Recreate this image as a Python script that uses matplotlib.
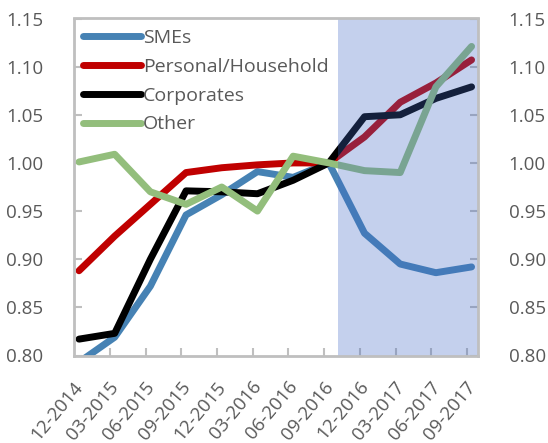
import matplotlib.pyplot as plt
import matplotlib.transforms as mtransforms
import numpy as np

dates = ['12-2014', '03-2015', '06-2015', '09-2015', '12-2015', '03-2016',
         '06-2016', '09-2016', '12-2016', '03-2017', '06-2017', '09-2017']

smes = [0.793, 0.819, 0.872, 0.946, 0.967, 0.991, 0.985, 1.000, 0.927, 0.895, 0.886, 0.892]
household = [0.888, 0.924, 0.957, 0.990, 0.995, 0.998, 1.000, 1.000, 1.027, 1.063, 1.083, 1.107]
corporates = [0.817, 0.823, 0.900, 0.971, 0.970, 0.968, 0.982, 1.000, 1.048, 1.050, 1.067, 1.079]
other = [1.001, 1.009, 0.970, 0.957, 0.975, 0.950, 1.007, 1.000, 0.992, 0.990, 1.079, 1.121]

plt.rcParams['font.family'] = ['Open Sans', 'DejaVu Sans']
grey_txt = '#595959'
spine_col = '#BFBFBF'

fig = plt.figure(figsize=(5.48, 4.43), dpi=100)
ax = fig.add_axes([74 / 548, 87.5 / 443, 404 / 548, 337 / 443])

x = np.arange(len(dates))
ax.plot(x, smes, color='#4682B4', lw=5, solid_capstyle='round', label='SMEs')
ax.plot(x, household, color='#C00000', lw=5, solid_capstyle='round', label='Personal/Household')
ax.plot(x, corporates, color='black', lw=5, solid_capstyle='round', label='Corporates')
ax.plot(x, other, color='#93BE7C', lw=5, solid_capstyle='round', label='Other')

# shaded period, drawn over the lines
ax.axvspan(7.25, 11.18, color='#416AC5', alpha=0.31, lw=0, zorder=2.2)

ax.set_xlim(-0.14, 11.18)
ax.set_ylim(0.80, 1.15)
ax.set_yticks(np.arange(0.80, 1.151, 0.05))
ax.yaxis.set_major_formatter(plt.FormatStrFormatter('%.2f'))

ax.set_xticks(x)
ax.set_xticklabels(dates, rotation=50, ha='right')
ax.set_xticks(np.arange(1, 12) - 0.13, minor=True)
ax.tick_params(axis='x', which='major', length=0, pad=16, labelsize=13.5, labelcolor=grey_txt)
ax.tick_params(axis='x', which='minor', direction='in', length=6, width=1.5, color=spine_col)
ax.tick_params(axis='y', which='major', direction='in', length=6, width=1.5, color=spine_col,
               left=True, right=True, labelleft=True, labelright=True,
               pad=22, labelsize=13.5, labelcolor=grey_txt)

shift = mtransforms.ScaledTranslation(8 / 100, 0, fig.dpi_scale_trans)
for lab in ax.get_xticklabels():
    lab.set_transform(lab.get_transform() + shift)

for s in ax.spines.values():
    s.set_color(spine_col)
    s.set_linewidth(2)

leg = ax.legend(loc='upper left', bbox_to_anchor=(0.022, 0.968), frameon=False,
                fontsize=14, handlelength=3.0, handletextpad=0.1,
                labelspacing=0.55, borderpad=0, borderaxespad=0)
for t in leg.get_texts():
    t.set_color(grey_txt)

plt.savefig('out.png', dpi=100)
